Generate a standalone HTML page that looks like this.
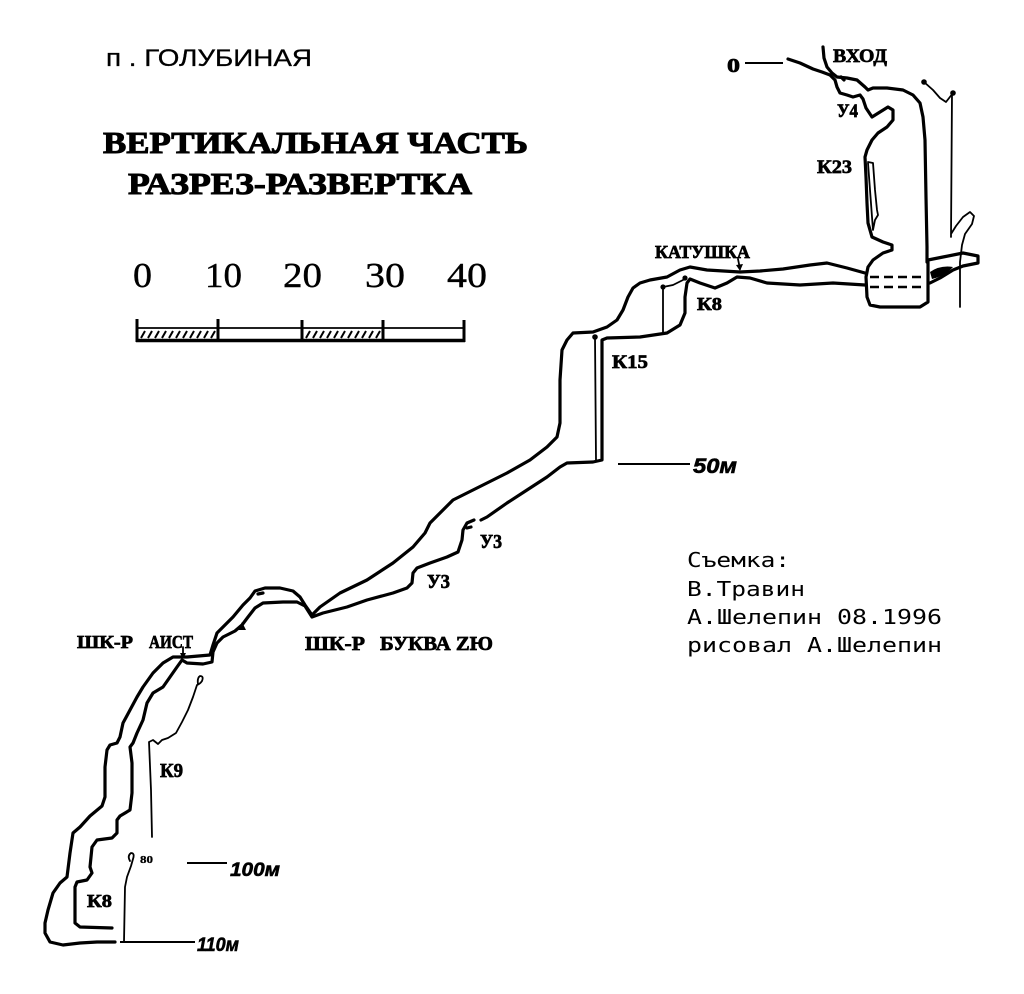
<!DOCTYPE html>
<html><head><meta charset="utf-8"><style>
html,body{margin:0;padding:0;background:#fff;}
svg{display:block;}
.w{fill:none;stroke:#000;stroke-width:3.2;stroke-linejoin:round;stroke-linecap:round;}
.r{fill:none;stroke:#000;stroke-width:1.8;stroke-linejoin:round;stroke-linecap:round;}
.b{font-family:"Liberation Serif","Noto Serif CJK SC",serif;font-weight:bold;fill:#000;stroke:#000;stroke-width:0.7;}
.t{font-family:"Liberation Serif","Noto Serif CJK SC",serif;font-weight:bold;fill:#000;stroke:#000;stroke-width:1;}
.s{font-family:"Liberation Serif","Noto Serif CJK SC",serif;fill:#000;stroke:#000;stroke-width:0.4;}
.h{font-family:"Liberation Sans","Noto Sans CJK SC",sans-serif;font-weight:bold;fill:#000;stroke:#000;stroke-width:0.6;}
.m{font-family:"DejaVu Sans Mono","Liberation Mono",monospace;fill:#000;}
.g{font-family:"Liberation Sans","DejaVu Sans",sans-serif;fill:#000;stroke:#000;stroke-width:0.3;}
</style></head><body>
<svg width="1024" height="994" viewBox="0 0 1024 994" xmlns="http://www.w3.org/2000/svg">
<rect width="1024" height="994" fill="#fff"/>

<!-- Titles -->
<text class="g" x="106" y="66" font-size="24" textLength="206" lengthAdjust="spacingAndGlyphs">п . ГОЛУБИНАЯ</text>
<text class="t" x="103" y="153" font-size="31" textLength="425" lengthAdjust="spacingAndGlyphs">ВЕРТИКАЛЬНАЯ ЧАСТЬ</text>
<text class="t" x="128" y="194" font-size="31" textLength="344" lengthAdjust="spacingAndGlyphs">РАЗРЕЗ-РАЗВЕРТКА</text>

<!-- Scale numbers -->
<text class="s" x="133" y="287" font-size="35" textLength="19" lengthAdjust="spacingAndGlyphs">0</text>
<text class="s" x="205" y="287" font-size="35" textLength="37" lengthAdjust="spacingAndGlyphs">10</text>
<text class="s" x="283" y="287" font-size="35" textLength="39" lengthAdjust="spacingAndGlyphs">20</text>
<text class="s" x="365" y="287" font-size="35" textLength="40" lengthAdjust="spacingAndGlyphs">30</text>
<text class="s" x="447" y="287" font-size="35" textLength="40" lengthAdjust="spacingAndGlyphs">40</text>

<!-- Scale bar -->
<g stroke="#000" fill="none">
<line x1="137" y1="328" x2="464" y2="328" stroke-width="1.8"/>
<line x1="136" y1="340.5" x2="465" y2="340.5" stroke-width="3.5"/>
<line x1="137" y1="319" x2="137" y2="342" stroke-width="3"/>
<line x1="218" y1="319" x2="218" y2="342" stroke-width="3"/>
<line x1="302" y1="320" x2="302" y2="342" stroke-width="3"/>
<line x1="383" y1="320" x2="383" y2="342" stroke-width="3"/>
<line x1="464" y1="320" x2="464" y2="342" stroke-width="3"/>
<g stroke-width="2">
<path d="M141,338 L145,331 M148,338 L152,331 M155,338 L159,331 M162,338 L166,331 M169,338 L173,331 M176,338 L180,331 M183,338 L187,331 M190,338 L194,331 M197,338 L201,331 M204,338 L208,331 M211,338 L215,331"/>
<path d="M306,338 L310,331 M313,338 L317,331 M320,338 L324,331 M327,338 L331,331 M334,338 L338,331 M341,338 L345,331 M348,338 L352,331 M355,338 L359,331 M362,338 L366,331 M369,338 L373,331 M376,338 L380,331"/>
</g>
</g>

<!-- Cave outer wall -->
<path class="w" d="M865,273 L847,268 827,263 810,265 783,269 760,271 740,272 707,270 690,267 680,270 667,277 650,280 640,283 633,288 628,297 623,310 617,320 607,327 593,332 573,333 567,340 562,350 560,380 560,423 557,437 547,447 530,460 507,473 487,483 467,493 453,500 440,513 430,523 425,533 413,547 393,563 367,580 340,593 320,607 312,615 305,605 300,597 293,591 280,588 265,588 255,591 250,598 243,605 233,617 223,627 217,633 213,645 210,655 187,657 173,657 163,663 153,673 143,687 137,697 130,710 123,723 120,737 117,743 110,745 107,750 105,767 105,797 102,806 90,816 80,827 73,833 70,853 67,877 60,883 53,893 48,910 45,923 45,933 50,942 63,945 80,943 97,942 115,942"/>

<!-- Cave inner wall -->
<path class="w" d="M865,285 L833,283 800,285 767,283 750,278 737,277 727,283 715,288 700,283 690,279 687,283 685,297 685,313 680,325 667,333 640,337 607,338 602,340 602,460 593,462 567,463 560,467 547,477 527,490 507,503 487,517 481,520"/>
<path class="w" d="M474,520 L467,523 463,530 462,540 458,552 447,557 430,563 417,568 413,573 412,583 407,588 393,593 367,600 347,607 323,613 312,617 305,606 297,602 283,602 263,603 255,608 248,617 242,625 235,631 223,637 217,643 213,652 212,662 203,664 187,663 182,660 177,667 170,677 163,687 153,693 147,703 143,720 137,733 133,743 130,747 132,763 132,793 130,810 120,816 117,820 117,833 112,838 97,840 92,847 90,867 92,873 87,880 77,882 75,887 75,923 80,927 112,928"/>
<path class="w" d="M467,528 L471,527" stroke-width="2"/>
<path d="M238,630 L242,622 246,630 Z" fill="#000"/>
<path class="w" d="M258,594 L263,593" stroke-width="2.5"/>

<!-- Entrance / K23 region -->
<path class="w" d="M823,47 L824,58 827,67 832,73 837,77 847,78 857,80 865,87 868,90 873,88 887,88 903,90 913,95 920,103 923,117 925,140 926,197 927,247 927,262"/>
<path class="w" d="M788,59 L800,63 813,69 822,72 830,75 835,80 837,87 840,93 847,95 853,97 860,95 863,99 866,108 872,117 880,112 888,107 893,110 893,120 887,127 878,133 872,140 867,150 865,157 866,177 867,203 868,223 872,237 883,242 892,245 892,250 883,253 873,260 868,267 866,277 867,297 870,305 880,307 920,307 928,302 928,283 928,262"/>
<path class="r" d="M868,162 L873,163 875,190 877,210 878,215 875,220 873,230 872,217 870,190 868,163" stroke-width="2.2"/>
<path class="w" d="M841,77 L844,80" stroke-width="2.5"/>
<line x1="745" y1="63" x2="783" y2="63" stroke="#000" stroke-width="2"/>
<!-- chamber dashes -->
<line x1="870" y1="277" x2="923" y2="277" stroke="#000" stroke-width="2.6" stroke-dasharray="9,5"/>
<line x1="870" y1="287" x2="923" y2="287" stroke="#000" stroke-width="2.6" stroke-dasharray="9,5"/>
<!-- right lens -->
<path class="w" d="M928,260 L943,257 963,253 978,256 978,263 963,266 953,270 940,278 930,283"/>
<path d="M930,272 Q940,265 953,267 Q945,276 932,279 Z" fill="#000"/>
<!-- right rope -->
<path class="r" d="M924,82 L933,90 940,98 946,102 953,93"/>
<circle cx="924" cy="82" r="2.8"/>
<circle cx="953" cy="93" r="2.8"/>
<path class="r" d="M952,93 L951,237 M951,234 L956,226 963,217 970,212 974,216 972,224 965,234 962,245 960,262 960,307"/>

<!-- K8 upper rope -->
<circle cx="663" cy="287" r="2.6"/>
<circle cx="685" cy="278" r="2.6"/>
<path class="r" d="M663,287 L663,333 M663,287 L673,285 683,280 685,278"/>
<!-- K15 rope -->
<circle cx="595" cy="337" r="2.8"/>
<path class="r" d="M595,337 L596,460" stroke-width="3"/>

<!-- K9 rope -->
<path class="r" d="M198,684 Q197,678 200,676 Q204,676 202,681 Q200,684 197,685 L193,697 188,710 182,722 176,733 168,738 162,740 158,744 153,740 149,742 M149,742 L151,790 152,837"/>
<!-- lower rope -->
<path class="r" d="M130,861 Q127,856 131,853 Q135,853 133,859 L131,866 127,877 125,887 124,942"/>

<!-- depth lines -->
<line x1="618" y1="464" x2="690" y2="464" stroke="#000" stroke-width="2"/>
<line x1="187" y1="863" x2="227" y2="863" stroke="#000" stroke-width="2"/>
<line x1="120" y1="942" x2="195" y2="942" stroke="#000" stroke-width="2"/>

<!-- arrows -->
<path class="r" d="M738,259 L740,269" stroke-width="1.5"/>
<path d="M736,265 L740,271 743,264 Z" fill="#000"/>
<path class="r" d="M183,647 L183,657" stroke-width="1.5"/>
<path d="M180,653 L183,659 186,653 Z" fill="#000"/>

<!-- Labels -->
<text class="b" x="727" y="72" font-size="20" textLength="13" lengthAdjust="spacingAndGlyphs">0</text>
<text class="b" x="833" y="62" font-size="19" textLength="54" lengthAdjust="spacingAndGlyphs">ВХОД</text>
<text class="b" x="837" y="117" font-size="19" textLength="21" lengthAdjust="spacingAndGlyphs">У4</text>
<text class="b" x="817" y="173" font-size="19" textLength="35" lengthAdjust="spacingAndGlyphs">К23</text>
<text class="b" x="655" y="258" font-size="18" textLength="95" lengthAdjust="spacingAndGlyphs">КАТУШКА</text>
<text class="b" x="697" y="310" font-size="18" textLength="25" lengthAdjust="spacingAndGlyphs">К8</text>
<text class="b" x="612" y="368" font-size="19" textLength="36" lengthAdjust="spacingAndGlyphs">К15</text>
<text class="h" x="693" y="473" font-size="21" textLength="44" lengthAdjust="spacingAndGlyphs" font-style="italic">50м</text>
<text class="b" x="480" y="548" font-size="20" textLength="22" lengthAdjust="spacingAndGlyphs">У3</text>
<text class="b" x="427" y="588" font-size="20" textLength="23" lengthAdjust="spacingAndGlyphs">У3</text>
<text class="b" x="305" y="650" font-size="20" textLength="60" lengthAdjust="spacingAndGlyphs">ШК-Р</text>
<text class="b" x="380" y="650" font-size="20" textLength="113" lengthAdjust="spacingAndGlyphs">БУКВА ZЮ</text>
<text class="b" x="77" y="648" font-size="18" textLength="56" lengthAdjust="spacingAndGlyphs">ШК-Р</text>
<text class="b" x="149" y="648" font-size="18" textLength="44" lengthAdjust="spacingAndGlyphs">АИСТ</text>
<text class="b" x="160" y="777" font-size="20" textLength="23" lengthAdjust="spacingAndGlyphs">К9</text>
<text class="b" x="87" y="907" font-size="18" textLength="25" lengthAdjust="spacingAndGlyphs">К8</text>
<text class="b" x="140" y="863" font-size="11" textLength="13" lengthAdjust="spacingAndGlyphs" style="stroke-width:0.3">80</text>
<text class="h" x="230" y="876" font-size="19" textLength="50" lengthAdjust="spacingAndGlyphs" font-style="italic">100м</text>
<text class="h" x="197" y="951" font-size="19" textLength="42" lengthAdjust="spacingAndGlyphs" font-style="italic">110м</text>

<!-- Credits -->
<text class="m" x="687" y="567" font-size="20" textLength="103" lengthAdjust="spacingAndGlyphs">Съемка:</text>
<text class="m" x="687" y="596" font-size="20" textLength="118" lengthAdjust="spacingAndGlyphs">В.Травин</text>
<text class="m" x="687" y="624" font-size="20" textLength="255" lengthAdjust="spacingAndGlyphs">А.Шелепин 08.1996</text>
<text class="m" x="687" y="652" font-size="20" textLength="255" lengthAdjust="spacingAndGlyphs">рисовал А.Шелепин</text>
</svg>
</body></html>
